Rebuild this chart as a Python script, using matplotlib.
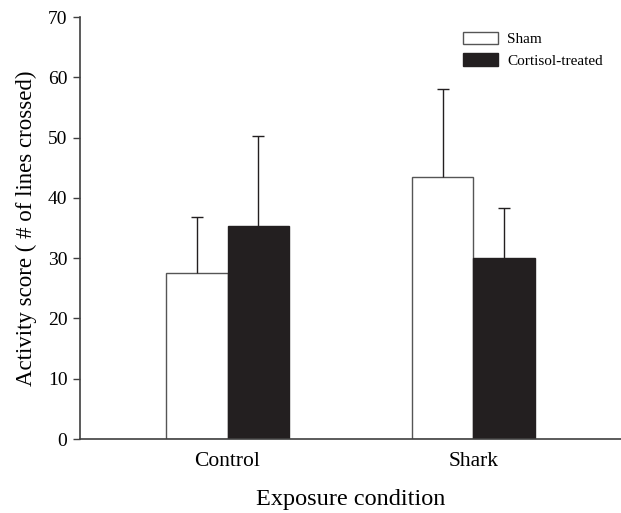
import numpy as np
import matplotlib
matplotlib.use('Agg')
import matplotlib.pyplot as plt

plt.rcParams['font.family'] = ['Liberation Serif', 'DejaVu Serif']

conditions = ['Control', 'Shark']
sham_mean = [27.5, 43.5]
sham_err = [9.4, 14.5]
cort_mean = [35.4, 30.0]
cort_err = [14.9, 8.4]

def add_err(ax, xs, means, errs, **kw):
    # only the upper half of the error bar, with a cap on top
    eb = ax.errorbar(xs, means, yerr=[np.zeros(len(errs)), errs],
                     fmt='none', **kw)
    caps = eb[1]
    if len(caps) == 2:
        caps[0].set_visible(False)
    return eb

def main():
    fig = plt.figure(figsize=(6.21, 5.13), dpi=100)
    ax = fig.add_axes([80 / 621, 1 - 439 / 513, 541 / 621, 422 / 513])

    x = np.arange(1, len(conditions) + 1)
    w = 0.25
    axis_col = '#404040'
    err_kw = dict(ecolor='#231f20', elinewidth=1.0, capsize=4, capthick=1.0)

    ax.bar(x - w / 2, sham_mean, w, color='white', edgecolor='#555555',
           linewidth=1.0, label='Sham')
    add_err(ax, x - w / 2, sham_mean, sham_err, **err_kw)
    ax.bar(x + w / 2, cort_mean, w, color='#231f20', edgecolor='#231f20',
           linewidth=1.0, label='Cortisol-treated')
    add_err(ax, x + w / 2, cort_mean, cort_err, **err_kw)

    ax.set_xlim(0.4, 2.6)
    ax.set_ylim(0, 70)
    ax.set_yticks(range(0, 71, 10))
    ax.set_xticks(x)
    ax.set_xticklabels(conditions, fontsize=15.5)
    ax.tick_params(axis='x', length=0, pad=9)
    ax.tick_params(axis='y', length=5, width=1, color=axis_col, labelsize=14,
                   direction='out', pad=4)
    for s in ['top', 'right']:
        ax.spines[s].set_visible(False)
    for s in ['left', 'bottom']:
        ax.spines[s].set_color(axis_col)
        ax.spines[s].set_linewidth(1.2)

    ax.set_xlabel('Exposure condition', fontsize=17.5, labelpad=13)
    ax.set_ylabel('Activity score ( # of lines crossed)', fontsize=16.5, labelpad=8)

    ax.legend(loc='upper left', bbox_to_anchor=(0.697, 0.98), frameon=False,
              fontsize=11, handlelength=2.3, handleheight=0.9,
              handletextpad=0.6, labelspacing=0.45, borderaxespad=0.0)

    fig.savefig('out.png', dpi=100)

if __name__ == '__main__':
    main()
